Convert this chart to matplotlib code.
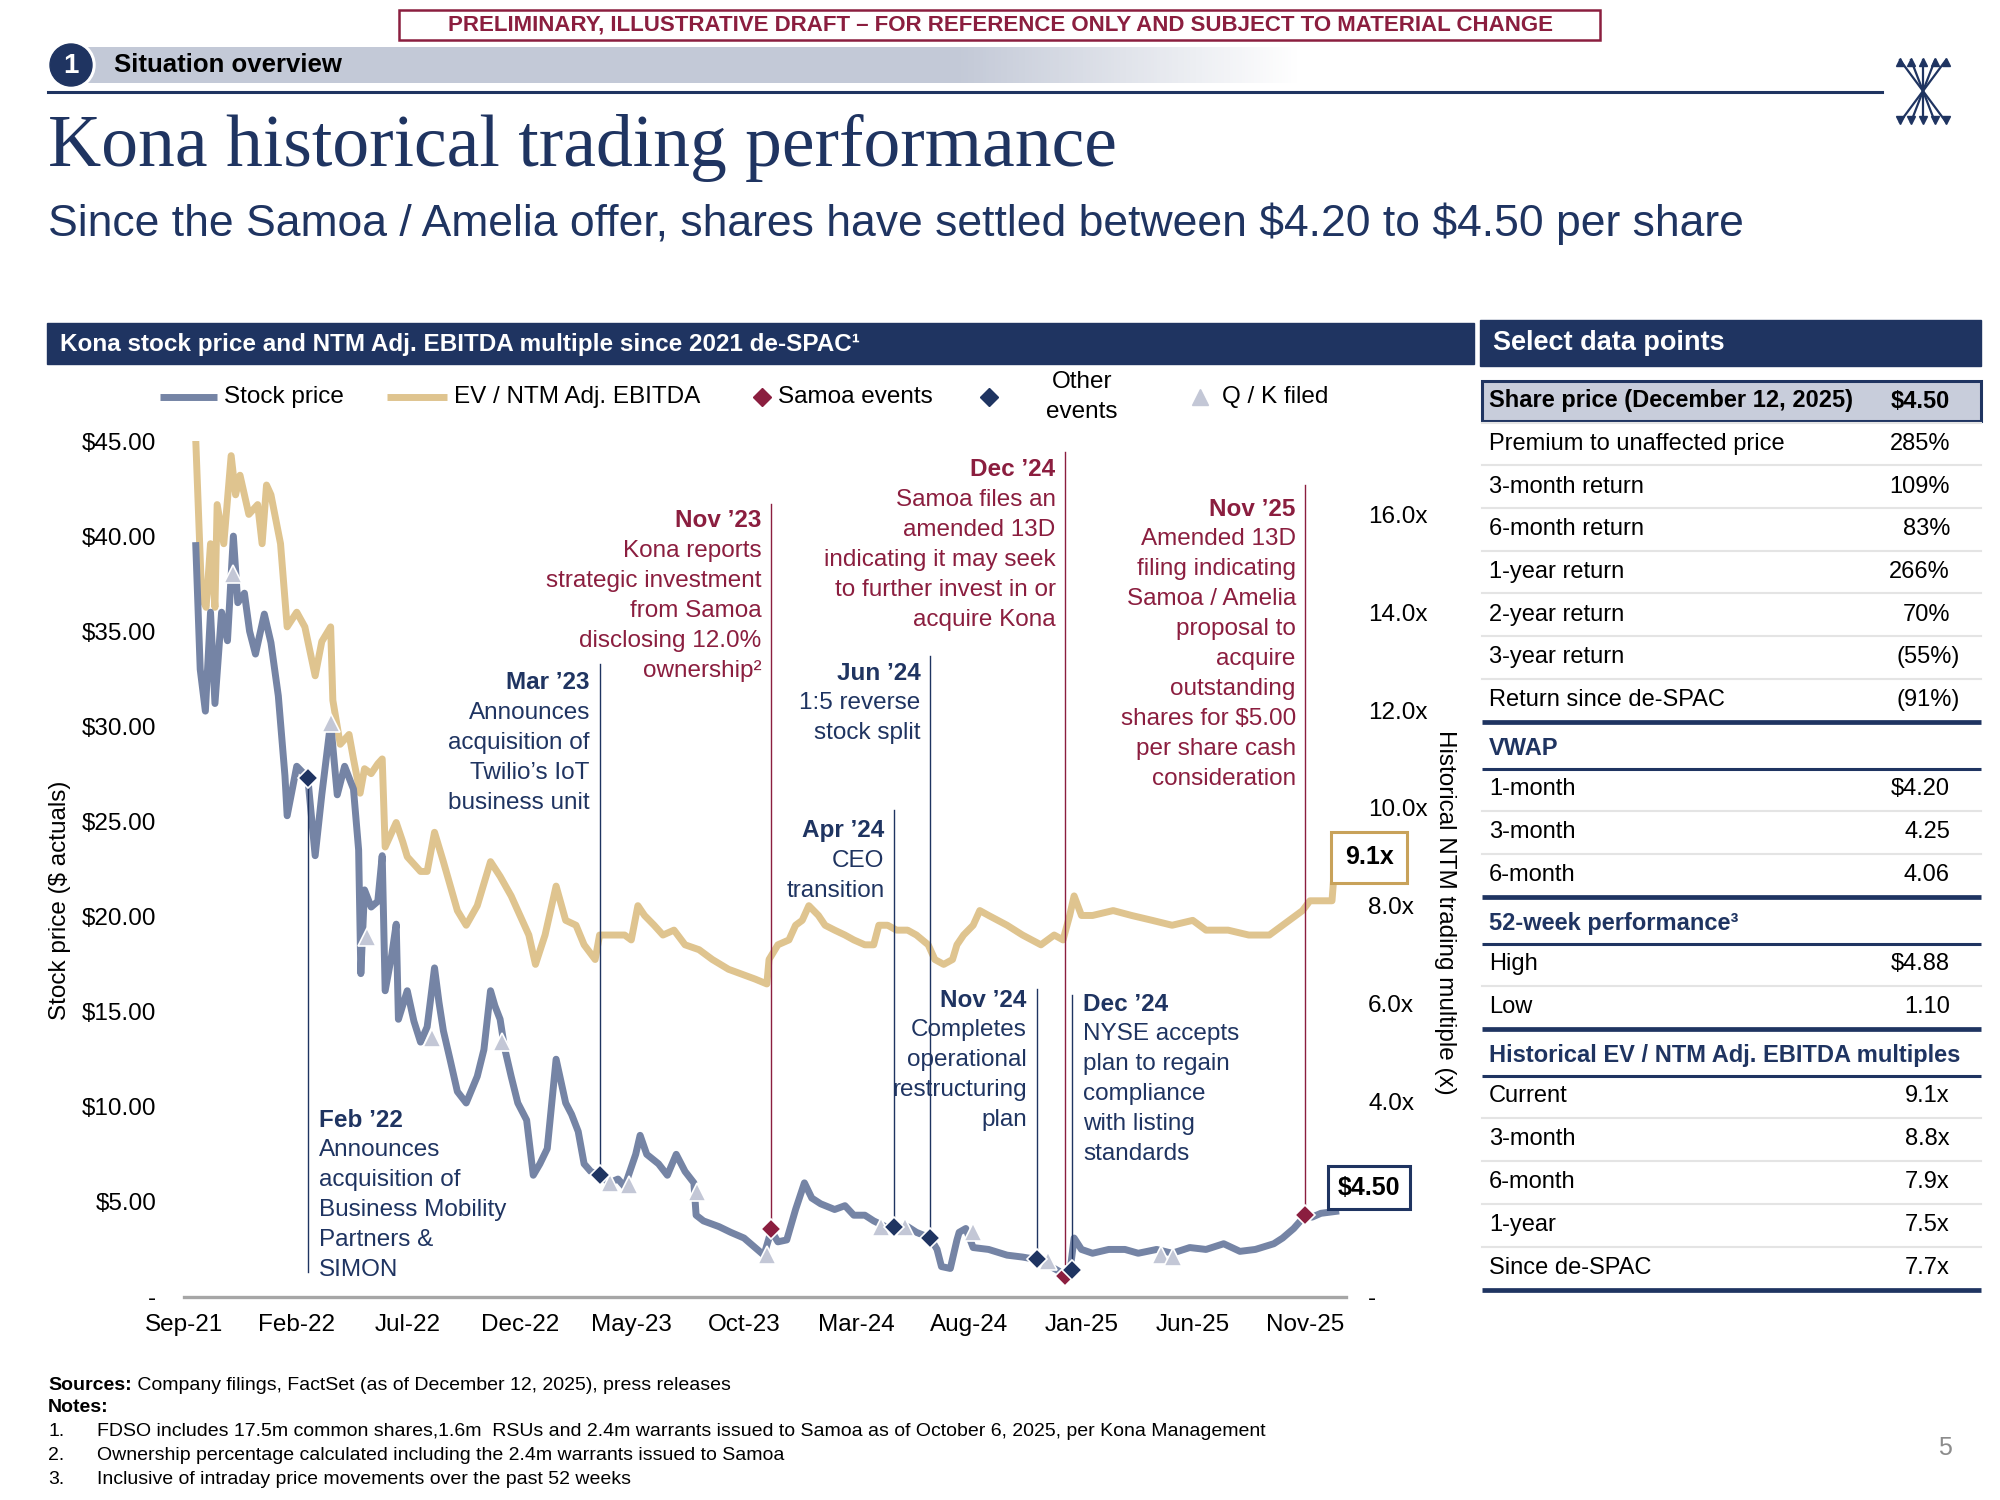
import numpy as np
import pandas as pd
import matplotlib
matplotlib.use("Agg")
import matplotlib.pyplot as plt
import matplotlib.dates as mdates
from matplotlib.colors import to_rgb
from matplotlib.patches import Rectangle, Circle

plt.rcParams['font.family'] = ['Liberation Sans', 'DejaVu Sans']

NAVY = '#1f3461'
MAROON = '#8b1e3f'
SLATE = '#7584a5'
TAN = '#dfc48f'
TRI = '#c3c7d6'

# ---------------- data ----------------
price_dates = [
    "2021-09-17", "2021-09-23", "2021-09-30", "2021-10-07", "2021-10-13", "2021-10-22", "2021-10-30",
    "2021-11-07", "2021-11-13", "2021-11-22", "2021-11-29", "2021-12-07", "2021-12-19", "2021-12-28",
    "2022-01-07", "2022-01-16", "2022-01-19", "2022-02-01", "2022-02-16", "2022-02-26", "2022-03-07",
    "2022-03-19", "2022-03-28", "2022-04-07", "2022-04-19", "2022-04-26", "2022-04-29", "2022-05-04",
    "2022-05-13", "2022-05-22", "2022-05-28", "2022-06-01", "2022-06-10", "2022-06-16", "2022-06-19",
    "2022-07-01", "2022-07-10", "2022-07-19", "2022-07-28", "2022-08-07", "2022-08-13", "2022-08-19",
    "2022-08-28", "2022-09-07", "2022-09-19", "2022-10-04", "2022-10-13", "2022-10-22", "2022-10-28",
    "2022-11-04", "2022-11-10", "2022-11-19", "2022-11-28", "2022-12-10", "2022-12-19", "2022-12-28",
    "2023-01-07", "2023-01-19", "2023-02-01", "2023-02-09", "2023-02-18", "2023-02-26", "2023-03-07",
    "2023-03-19", "2023-04-01", "2023-04-13", "2023-04-22", "2023-05-07", "2023-05-13", "2023-05-22",
    "2023-06-07", "2023-06-19", "2023-07-01", "2023-07-13", "2023-07-25", "2023-07-28", "2023-08-07",
    "2023-08-28", "2023-09-13", "2023-10-01", "2023-10-19", "2023-10-28", "2023-11-07", "2023-11-16",
    "2023-11-28", "2023-12-10", "2023-12-22",
    "2024-01-01", "2024-01-13", "2024-02-01", "2024-02-15", "2024-02-27", "2024-03-13", "2024-03-25",
    "2024-04-10", "2024-04-22", "2024-05-10", "2024-05-22", "2024-06-10", "2024-06-19", "2024-06-25",
    "2024-07-07", "2024-07-16", "2024-07-19", "2024-07-28", "2024-08-07", "2024-08-28", "2024-09-22",
    "2024-10-13", "2024-10-28", "2024-11-16", "2024-12-04", "2024-12-16", "2024-12-22",
    "2025-01-01", "2025-01-16", "2025-02-07", "2025-03-01", "2025-03-19", "2025-04-13", "2025-05-04",
    "2025-05-28", "2025-06-19", "2025-07-13", "2025-08-04", "2025-08-25", "2025-09-19", "2025-10-01",
    "2025-10-16", "2025-11-01", "2025-11-10", "2025-11-22", "2025-12-12"]
price_vals = [
    39.5, 33.0, 30.8, 36.0, 31.2, 36.0, 34.5, 40.0, 36.5, 37.0, 35.0, 33.8, 35.9, 34.4,
    31.6, 27.4, 25.3, 27.9, 27.3, 23.2, 26.4, 30.2, 26.4, 27.9, 26.7, 23.5, 17.0, 21.4,
    20.5, 20.8, 23.2, 16.1, 18.0, 19.6, 14.6, 16.1, 14.5, 13.4, 14.2, 17.3, 15.5, 14.0,
    12.5, 10.8, 10.2, 11.6, 13.0, 16.1, 15.3, 14.6, 13.1, 11.6, 10.2, 9.3, 6.4, 7.0,
    7.8, 12.5, 10.2, 9.6, 8.7, 7.0, 6.6, 6.4, 6.0, 6.2, 5.8, 7.5, 8.5, 7.5,
    7.0, 6.4, 7.5, 6.6, 6.0, 4.3, 4.0, 3.7, 3.4, 3.1, 2.5, 2.2, 3.5, 2.9,
    3.0, 4.6, 6.0,
    5.2, 4.9, 4.6, 4.8, 4.3, 4.3, 4.0, 3.7, 3.7, 3.7, 3.4, 3.1, 2.5, 1.6,
    1.5, 3.0, 3.4, 3.6, 2.6, 2.5, 2.2, 2.1, 2.0, 1.7, 1.3, 1.2, 3.1,
    2.5, 2.3, 2.5, 2.5, 2.3, 2.5, 2.3, 2.6, 2.5, 2.8, 2.4, 2.5, 2.8, 3.1,
    3.6, 4.3, 4.2, 4.4, 4.5]

mult_dates = [
    "2021-09-17", "2021-09-25", "2021-10-01", "2021-10-07", "2021-10-13", "2021-10-16", "2021-10-25",
    "2021-11-04", "2021-11-10", "2021-11-16", "2021-11-28", "2021-12-10", "2021-12-16", "2021-12-22",
    "2021-12-28",
    "2022-01-10", "2022-01-19", "2022-02-01", "2022-02-12", "2022-02-26", "2022-03-07", "2022-03-19",
    "2022-03-22", "2022-04-01", "2022-04-13", "2022-04-19", "2022-04-28", "2022-05-04", "2022-05-13",
    "2022-05-22", "2022-05-28", "2022-06-01", "2022-06-16", "2022-06-25", "2022-07-01", "2022-07-19",
    "2022-07-28", "2022-08-07", "2022-08-19", "2022-09-07", "2022-09-19", "2022-10-04", "2022-10-22",
    "2022-11-04", "2022-11-19", "2022-12-01", "2022-12-13", "2022-12-22",
    "2023-01-04", "2023-01-19", "2023-02-01", "2023-02-15", "2023-02-26", "2023-03-13", "2023-03-19",
    "2023-04-01", "2023-04-22", "2023-05-01", "2023-05-10", "2023-05-19", "2023-06-01", "2023-06-13",
    "2023-06-28", "2023-07-13", "2023-08-01", "2023-08-19", "2023-09-10", "2023-09-28", "2023-10-16",
    "2023-11-01", "2023-11-04", "2023-11-16", "2023-12-01", "2023-12-10", "2023-12-19", "2023-12-28",
    "2024-01-10", "2024-01-19", "2024-02-01", "2024-02-15", "2024-02-27", "2024-03-13", "2024-03-25",
    "2024-04-01", "2024-04-13", "2024-04-25", "2024-05-10", "2024-05-22", "2024-06-07", "2024-06-16",
    "2024-06-28", "2024-07-10", "2024-07-16", "2024-07-25", "2024-08-07", "2024-08-16", "2024-08-28",
    "2024-09-22", "2024-10-13", "2024-11-07", "2024-11-25", "2024-12-07", "2024-12-16", "2024-12-22",
    "2025-01-01", "2025-01-16", "2025-02-13", "2025-03-10", "2025-04-07", "2025-05-04", "2025-06-01",
    "2025-06-19", "2025-07-19", "2025-08-16", "2025-09-13", "2025-10-10", "2025-10-28", "2025-11-07",
    "2025-11-25", "2025-12-07", "2025-12-12"]
mult_vals = [
    17.5, 14.3, 14.1, 15.4, 14.1, 16.2, 15.4, 17.2, 16.4, 16.8, 16.0, 16.2, 15.4, 16.6, 16.4,
    15.4, 13.7, 14.0, 13.7, 12.7, 13.4, 13.7, 12.2, 11.3, 11.5, 11.0, 10.3, 10.8, 10.7,
    10.9, 11.0, 9.2, 9.7, 9.3, 9.0, 8.7, 8.7, 9.5, 8.9, 7.9, 7.6, 8.0, 8.9,
    8.6, 8.2, 7.8, 7.4, 6.8,
    7.4, 8.4, 7.7, 7.6, 7.2, 6.9, 7.4, 7.4, 7.4, 7.3, 8.0, 7.8, 7.6, 7.4,
    7.5, 7.2, 7.1, 6.9, 6.7, 6.6, 6.5, 6.4, 6.9, 7.2, 7.3, 7.6, 7.7, 8.0,
    7.8, 7.6, 7.5, 7.4, 7.3, 7.2, 7.2, 7.6, 7.6, 7.5, 7.5, 7.4, 7.2, 6.9,
    6.8, 6.9, 7.2, 7.4, 7.6, 7.9, 7.8, 7.6, 7.4, 7.2, 7.4, 7.3, 7.8, 8.2,
    7.8, 7.8, 7.9, 7.8, 7.7, 7.6, 7.7, 7.5, 7.5, 7.4, 7.4, 7.7, 7.9, 8.1,
    8.1, 8.1, 9.1]

# Q / K filings
qk_dates = ["2021-11-07", "2022-03-19", "2022-05-07", "2022-08-04", "2022-11-07", "2023-04-02",
            "2023-04-28", "2023-07-29", "2023-11-01", "2024-04-04", "2024-05-07", "2024-08-07",
            "2024-11-16", "2025-04-19", "2025-05-05"]
qk_vals = [38.0, 30.2, 18.9, 13.6, 13.4, 6.0, 5.9, 5.5, 2.2, 3.7, 3.7, 3.4, 1.9, 2.2, 2.1]

# events
ev_titles = ["Feb \u201922", "Mar \u201923", "Nov \u201923", "Apr \u201924", "Jun \u201924",
             "Nov \u201924", "Dec \u201924", "Dec \u201924", "Nov \u201925"]
ev_dates = ["2022-02-16", "2023-03-19", "2023-11-07", "2024-04-22", "2024-06-10",
            "2024-11-01", "2024-12-10", "2024-12-19", "2025-11-01"]
ev_prices = [27.3, 6.4, 3.6, 3.7, 3.1, 2.0, 1.1, 1.4, 4.3]
ev_kinds = ["other", "other", "samoa", "other", "other", "other", "samoa", "other", "samoa"]
ev_body = [
    ["Announces", "acquisition of", "Business Mobility", "Partners &", "SIMON"],
    ["Announces", "acquisition of", "Twilio\u2019s IoT", "business unit"],
    ["Kona reports", "strategic investment", "from Samoa", "disclosing 12.0%", "ownership\u00b2"],
    ["CEO", "transition"],
    ["1:5 reverse", "stock split"],
    ["Completes", "operational", "restructuring", "plan"],
    ["Samoa files an", "amended 13D", "indicating it may seek", "to further invest in or", "acquire Kona"],
    ["NYSE accepts", "plan to regain", "compliance", "with listing", "standards"],
    ["Amended 13D", "filing indicating", "Samoa / Amelia", "proposal to", "acquire",
     "outstanding", "shares for $5.00", "per share cash", "consideration"],
]
# label layout (leader line end and first text line, in $ units)
ev_line_end = [1.3, 33.3, 41.7, 25.6, 33.7, 16.2, 44.4, 15.9, 42.7]
ev_text_y = [9.3, 32.3, 40.8, 24.5, 32.8, 15.6, 43.5, 15.4, 41.4]
ev_side = ['right', 'left', 'left', 'left', 'left', 'left', 'left', 'right', 'left']

# side table
share_label = "Share price (December 12, 2025)"
share_value = "$4.50"
ret_labels = ["Premium to unaffected price", "3-month return", "6-month return", "1-year return",
              "2-year return", "3-year return", "Return since de-SPAC"]
ret_values = ["285%", "109%", "83%", "266%", "70%", "(55%)", "(91%)"]
vwap_labels = ["1-month", "3-month", "6-month"]
vwap_values = ["$4.20", "4.25", "4.06"]
wk_labels = ["High", "Low"]
wk_values = ["$4.88", "1.10"]
mul_labels = ["Current", "3-month", "6-month", "1-year", "Since de-SPAC"]
mul_values = ["9.1x", "8.8x", "7.9x", "7.5x", "7.7x"]

notes = ["FDSO includes 17.5m common shares,1.6m  RSUs and 2.4m warrants issued to Samoa as of October 6, 2025, per Kona Management",
         "Ownership percentage calculated including the 2.4m warrants issued to Samoa",
         "Inclusive of intraday price movements over the past 52 weeks"]


def dnum(s):
    return mdates.date2num(pd.to_datetime(s))


fig = plt.figure(figsize=(20, 15), dpi=100)
deco = fig.add_axes([0, 0, 1, 1])
deco.axis('off')
deco.set_autoscale_on(False)
deco.set_xlim(0, 2000)
deco.set_ylim(1500, 0)

# ---------------- page header ----------------
deco.add_patch(Rectangle((399, 10), 1201, 30, fill=False, ec=MAROON, lw=1.8))
deco.text(1000, 25.5, "PRELIMINARY, ILLUSTRATIVE DRAFT \u2013 FOR REFERENCE ONLY AND SUBJECT TO MATERIAL CHANGE",
          ha='center', va='center', color=MAROON, fontsize=16, fontweight='bold')

band = np.ones((1, 400, 4))
band[..., :3] = to_rgb('#c3c9d7')
xs = np.linspace(0, 1, 400)
band[0, :, 3] = np.clip(1 - (xs - 0.72) / 0.28, 0, 1)
deco.imshow(band, extent=[80, 1300, 83, 47], aspect='auto', zorder=1)
deco.add_patch(Circle((71, 65), 24, color='white', zorder=2))
deco.add_patch(Circle((71, 65), 21, color=NAVY, zorder=3))
deco.text(71, 66, "1", color='white', fontsize=20, fontweight='bold', ha='center', va='center', zorder=4)
deco.text(114, 65, "Situation overview", fontsize=18.5, fontweight='bold', va='center', zorder=4)
deco.plot([48, 1882], [92, 92], color=NAVY, lw=2.2)

# logo
top_x = [1900, 1911, 1923, 1935, 1946]
for tx in top_x:
    bx = 2 * 1923 - tx
    deco.plot([tx, bx], [60, 122], color=NAVY, lw=1.6)
    deco.plot(tx, 62, marker='^', ms=6, color=NAVY)
    deco.plot(bx, 120, marker='v', ms=6, color=NAVY)

deco.text(48, 166, "Kona historical trading performance", fontfamily='Liberation Serif',
          fontsize=53, color=NAVY, va='baseline')
deco.text(48, 224, "Since the Samoa / Amelia offer, shares have settled between \\$4.20 to \\$4.50 per share",
          fontsize=32, color=NAVY, va='center')

# section headers
deco.add_patch(Rectangle((47, 323), 1427, 41, color=NAVY))
deco.text(60, 344, "Kona stock price and NTM Adj. EBITDA multiple since 2021 de-SPAC\u00b9",
          color='white', fontsize=17.5, fontweight='bold', va='center')
deco.add_patch(Rectangle((1480, 320), 501, 46, color=NAVY))
deco.text(1493, 343, "Select data points", color='white', fontsize=19.5, fontweight='bold', va='center')

# legend
LY = 397
deco.plot([160, 217], [LY, LY], color=SLATE, lw=5, solid_capstyle='butt')
deco.text(224, LY, "Stock price", fontsize=17.5, va='center')
deco.plot([387, 447], [LY, LY], color=TAN, lw=5, solid_capstyle='butt')
deco.text(454, LY, "EV / NTM Adj. EBITDA", fontsize=17.5, va='center')
deco.plot(762, LY, marker='D', ms=9, color=MAROON)
deco.text(778, LY, "Samoa events", fontsize=17.5, va='center')
deco.plot(989, LY, marker='D', ms=9, color=NAVY)
deco.text(1082, 382, "Other", fontsize=17.5, va='center', ha='center')
deco.text(1082, 412, "events", fontsize=17.5, va='center', ha='center')
deco.plot(1200, LY, marker='^', ms=12, color=TRI)
deco.text(1222, LY, "Q / K filed", fontsize=17.5, va='center')

deco.text(60, 900, "Stock price ($ actuals)", rotation=90, fontsize=17.5, ha='center', va='center')
deco.text(1445, 912, "Historical NTM trading multiple (x)", rotation=270, fontsize=17.5,
          ha='center', va='center')

# ---------------- chart ----------------
ax = fig.add_axes([184 / 2000, 1 - 1297 / 1500, (1346 - 184) / 2000, (1297 - 441) / 1500])
ax2 = ax.twinx()
ax2.set_zorder(1)
ax.set_zorder(2)
ax.patch.set_visible(False)

px = dnum(price_dates)
mx = dnum(mult_dates)
ax2.plot(mx, mult_vals, color=TAN, lw=5, solid_joinstyle='round', zorder=2)
ax.plot(px, price_vals, color=SLATE, lw=5, solid_joinstyle='round', zorder=2)
ax.plot(dnum(qk_dates), qk_vals, ls='none', marker='^', ms=13, color=TRI, mec='white', mew=1.2, zorder=4)

for i in range(len(ev_dates)):
    x = dnum(ev_dates[i])
    col = MAROON if ev_kinds[i] == 'samoa' else NAVY
    ax.plot([x, x], [ev_prices[i], ev_line_end[i]], color=col, lw=1.0, zorder=3)
    ax.plot(x, ev_prices[i], marker='D', ms=10, color=col, mec='white', mew=1.2, ls='none', zorder=6)
    if ev_side[i] == 'right':
        dx, ha = 8, 'left'
    else:
        dx, ha = -7, 'right'
    for j, line in enumerate([ev_titles[i]] + ev_body[i]):
        ax.annotate(line, xy=(x, ev_text_y[i]), xytext=(dx, -21.6 * j), textcoords='offset points',
                    ha=ha, va='center', color=col, fontsize=17.5,
                    fontweight='bold' if j == 0 else 'normal', zorder=7)

ax.annotate(f"${price_vals[-1]:.2f}", xy=(px[-1], price_vals[-1]), xytext=(24, 17),
            textcoords='offset points', ha='center', va='center', fontsize=18, fontweight='bold',
            bbox=dict(boxstyle='square,pad=0.38', fc='white', ec=NAVY, lw=2.2),
            zorder=10, annotation_clip=False)
ax.annotate(f"{mult_vals[-1]:.1f}x", xy=(mx[-1], mult_vals[-1]), xycoords=ax2.transData, xytext=(24, -4),
            textcoords='offset points', ha='center', va='center', fontsize=18, fontweight='bold',
            bbox=dict(boxstyle='square,pad=0.55', fc='white', ec='#c8a25a', lw=2.2),
            zorder=10, annotation_clip=False)

ax.set_xlim(dnum("2021-09-01"), dnum("2025-12-26"))
ax.set_ylim(0, 45)
ax2.set_ylim(0, 17.5)

xt = pd.date_range("2021-09-01", "2025-11-01", freq="5MS")
ax.set_xticks(mdates.date2num(xt))
ax.set_xticklabels([d.strftime("%b-%y") for d in xt])
yt = np.arange(0, 46, 5)
ax.set_yticks(yt)
ax.set_yticklabels(["-" if v == 0 else f"${v:.2f}" for v in yt])
yt2 = np.arange(0, 17, 2)
ax2.set_yticks(yt2)
# the 2.0x label sits behind the current-price box in the reference
ax2.set_yticklabels(["-" if v == 0 else ("" if v == 2 else f"{v:.1f}x") for v in yt2])

ax.tick_params(axis='y', length=0, pad=20, labelsize=17.5)
ax.tick_params(axis='x', length=0, pad=12, labelsize=17.5)
ax2.tick_params(axis='y', length=0, pad=16, labelsize=17.5)
for s in ['top', 'left', 'right']:
    ax.spines[s].set_visible(False)
for s in ax2.spines.values():
    s.set_visible(False)
ax.spines['bottom'].set_color('#a6a6a6')
ax.spines['bottom'].set_linewidth(2.4)

# ---------------- side table ----------------
TL, TR = 1482, 1981
LX, VX = 1489, 1950


def value_text(y, v, bold=False, color='black'):
    xr = VX + 10 if v.endswith(')') else VX
    deco.text(xr, y, v, ha='right', va='center', fontsize=17,
              fontweight='bold' if bold else 'normal', color=color)


def rows(labels, values, y0, step=43):
    for k, (lab, val) in enumerate(zip(labels, values)):
        y = y0 + k * step
        deco.text(LX, y, lab, va='center', fontsize=17)
        value_text(y, val)
        if k < len(labels) - 1:
            deco.plot([TL, TR], [y + step / 2, y + step / 2], color='#e4e4e4', lw=1.5)
    return y0 + (len(labels) - 1) * step


deco.add_patch(Rectangle((TL, 381), TR - TL, 40, fc='#c8cddb', ec=NAVY, lw=2.2))
deco.text(LX, 401, share_label, va='center', fontsize=17, fontweight='bold')
value_text(401, share_value, bold=True)
deco.plot([TL, TR], [422.5, 422.5], color='#e4e4e4', lw=1.5)
last = rows(ret_labels, ret_values, 444, 42.7)

sections = [("VWAP", vwap_labels, vwap_values),
            ("52-week performance\u00b3", wk_labels, wk_values),
            ("Historical EV / NTM Adj. EBITDA multiples", mul_labels, mul_values)]
for title, labs, vals in sections:
    thick = last + 22
    deco.plot([TL, TR], [thick, thick], color=NAVY, lw=3.4, solid_capstyle='butt')
    deco.text(LX, thick + 26, title, va='center', fontsize=17, fontweight='bold', color=NAVY)
    deco.plot([TL, TR], [thick + 47, thick + 47], color=NAVY, lw=2.2, solid_capstyle='butt')
    last = rows(labs, vals, thick + 67)
deco.plot([TL, TR], [last + 22, last + 22], color=NAVY, lw=3.4, solid_capstyle='butt')

# ---------------- footer ----------------
src = deco.text(48, 1386, "Sources:", fontsize=14, fontweight='bold', va='center')
deco.annotate(" Company filings, FactSet (as of December 12, 2025), press releases", xy=(1, 0.5),
              xycoords=src, va='center', fontsize=14)
deco.text(48, 1408, "Notes:", fontsize=14, fontweight='bold', va='center')
for k, n in enumerate(notes):
    deco.text(48, 1432 + 24 * k, f"{k + 1}.", fontsize=14, va='center')
    deco.text(97, 1432 + 24 * k, n, fontsize=14, va='center')
deco.text(1945, 1448, "5", fontsize=18, color='#8c8c8c', ha='center', va='center')

fig.savefig("out.png", dpi=100)
